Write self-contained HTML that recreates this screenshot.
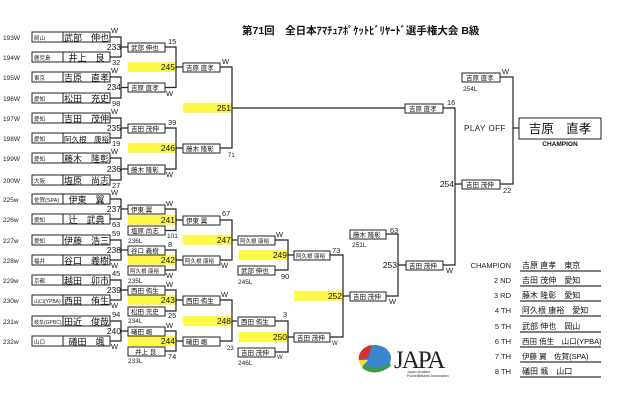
<!DOCTYPE html>
<html><head><meta charset="utf-8"><style>
html,body{margin:0;padding:0;background:#fff;}
svg{display:block;font-family:"Liberation Sans","Noto Sans CJK JP",sans-serif;}
</style></head><body>
<svg width="626" height="400" viewBox="0 0 626 400" xmlns="http://www.w3.org/2000/svg">
<rect width="626" height="400" fill="#fff"/>
<text x="242" y="34" font-size="10.5" font-weight="bold" fill="#111">第71回　全日本ｱﾏﾁｭｱﾎﾟｹｯﾄﾋﾞﾘﾔｰﾄﾞ選手権大会 B級</text>

<g fill="#fff84a">
<rect x="128" y="62" width="48" height="10"/><rect x="128" y="143" width="48" height="10"/>
<rect x="183" y="103" width="49" height="10"/>
<rect x="128" y="215" width="48" height="10"/><rect x="128" y="255" width="48" height="10"/>
<rect x="128" y="295" width="48" height="10"/><rect x="128" y="336" width="48" height="10"/>
<rect x="183" y="235" width="49" height="10"/><rect x="183" y="316" width="49" height="10"/>
<rect x="239" y="250" width="49" height="10"/><rect x="239" y="332" width="49" height="10"/>
<rect x="294" y="291" width="49" height="10"/>
</g>
<g font-size="8.5" text-anchor="end" fill="#111">
<text x="175" y="70">245</text><text x="175" y="151">246</text><text x="231" y="111">251</text>
<text x="175" y="223">241</text><text x="175" y="263">242</text><text x="175" y="303">243</text><text x="175" y="344">244</text>
<text x="231" y="243">247</text><text x="231" y="324">248</text>
<text x="287" y="258">249</text><text x="287" y="340">250</text><text x="342" y="299">252</text>
<text x="397" y="268">253</text><text x="454" y="187">254</text>
<text x="121" y="50">233</text><text x="121" y="90">234</text><text x="121" y="131">235</text><text x="121" y="172">236</text>
<text x="121" y="212">237</text><text x="121" y="253">238</text><text x="121" y="293">239</text><text x="121" y="334">240</text>
</g>

<g stroke="#222" stroke-width="1.2" fill="none">
<path d="M110 37H121V57H110M121 47H128"/>
<path d="M110 77H121V98H110M121 87.5H128"/>
<path d="M110 118H121V138H110M121 128H128"/>
<path d="M110 158H121V180H110M121 169H128"/>
<path d="M110 199H121V219H110M121 209H128"/>
<path d="M110 240H121V260H110M121 250H128"/>
<path d="M110 280H121V300H110M121 290H128"/>
<path d="M110 321H121V341H110M121 331H128"/>
<path d="M165 47H176V87.5H165M176 67H183"/>
<path d="M165 128H176V169H165M176 148H183"/>
<path d="M220 67H232V148H220M232 108H405"/>
<path d="M165 209H176V230.5H165M176 220H183"/>
<path d="M165 250H176V270H165M176 260H183"/>
<path d="M165 290H176V311H165M176 300H183"/>
<path d="M165 331H176V351H165M176 341H183"/>
<path d="M220 220H232V260H220M232 240H237"/>
<path d="M220 300H232V341H220M232 321H237"/>
<path d="M275 240H288V270H275M288 255H294"/>
<path d="M275 321H288V352H275M288 337H294"/>
<path d="M330 255H343V337H330M343 296H350"/>
<path d="M386 234H398V296H386M398 265H406"/>
<path d="M443 265H455V108H443M455 184H462"/>
<path d="M500 77H513V184H500M513 128H519"/>
</g>

<g stroke="#222" stroke-width="1" fill="#fff">
<rect x="32" y="32" width="78" height="10"/><rect x="32" y="52" width="78" height="10"/>
<rect x="32" y="72" width="78" height="10"/><rect x="32" y="93" width="78" height="10"/>
<rect x="32" y="113" width="78" height="10"/><rect x="32" y="133" width="78" height="10"/>
<rect x="32" y="153" width="78" height="10"/><rect x="32" y="175" width="78" height="10"/>
<rect x="32" y="194" width="78" height="10"/><rect x="32" y="214" width="78" height="10"/>
<rect x="32" y="235" width="78" height="10"/><rect x="32" y="255" width="78" height="10"/>
<rect x="32" y="275" width="78" height="10"/><rect x="32" y="295" width="78" height="10"/>
<rect x="32" y="316" width="78" height="10"/><rect x="32" y="336" width="78" height="10"/>
</g>
<g stroke="#222" stroke-width="1">
<path d="M63 32V42M63 52V62M63 72V82M63 93V103M63 113V123M63 133V143M63 153V163M63 175V185M63 194V204M63 214V224M63 235V245M63 255V265M63 275V285M63 295V305M63 316V326M63 336V346"/>
</g>
<g font-size="6.5" fill="#222">
<text x="3" y="40">193W</text><text x="3" y="60">194W</text><text x="3" y="80">195W</text><text x="3" y="101">196W</text>
<text x="3" y="121">197W</text><text x="3" y="141">198W</text><text x="3" y="161">199W</text><text x="3" y="183">200W</text>
<text x="3" y="202">225w</text><text x="3" y="222">226w</text><text x="3" y="243">227w</text><text x="3" y="263">228w</text>
<text x="3" y="283">229w</text><text x="3" y="303">230w</text><text x="3" y="324">231w</text><text x="3" y="344">232w</text>
</g>
<g font-size="5.5" fill="#222">
<text x="34" y="40">岡山</text><text x="34" y="60">鹿児島</text><text x="34" y="80">東京</text><text x="34" y="101">愛知</text>
<text x="34" y="121">愛知</text><text x="34" y="141">愛知</text><text x="34" y="161">愛知</text><text x="34" y="183">大阪</text>
<text x="34" y="202">佐賀(SPA)</text><text x="34" y="222">愛知</text><text x="34" y="243">愛知</text><text x="34" y="263">福井</text>
<text x="34" y="283">京都</text><text x="34" y="303" font-size="5">山口(YPBA)</text><text x="34" y="324" font-size="5">岐阜(GPBC)</text><text x="34" y="344">山口</text>
</g>
<g font-size="9" fill="#111" text-anchor="middle">
<text x="86.5" y="41">武部　伸也</text><text x="86.5" y="61">井上　良</text><text x="86.5" y="81">吉原　直孝</text><text x="86.5" y="102">松田　充史</text>
<text x="86.5" y="122">吉田　茂伸</text><text x="86.5" y="142" font-size="7.5">阿久根　康裕</text><text x="86.5" y="162">藤木　隆彰</text><text x="86.5" y="184">塩原　尚志</text>
<text x="86.5" y="203">伊東　翼</text><text x="86.5" y="223">辻　武典</text><text x="86.5" y="244">伊藤　浩三</text><text x="86.5" y="264">谷口　義樹</text>
<text x="86.5" y="284">越田　卯市</text><text x="86.5" y="304">西田　侑生</text><text x="86.5" y="325">田近　俊哉</text><text x="86.5" y="345">礒田　颯</text>
</g>

<g stroke="#222" stroke-width="1" fill="#fff">
<rect x="128" y="43" width="37" height="9"/><rect x="128" y="83" width="37" height="9"/>
<rect x="128" y="124" width="37" height="9"/><rect x="128" y="165" width="37" height="9"/>
<rect x="183" y="63" width="37" height="9"/><rect x="183" y="144" width="37" height="9"/>
<rect x="405" y="104" width="38" height="9"/>
<rect x="462" y="73" width="38" height="9"/><rect x="462" y="180" width="38" height="9"/>
<rect x="128" y="205" width="37" height="9"/><rect x="128" y="226" width="37" height="9"/>
<rect x="128" y="246" width="37" height="9"/><rect x="128" y="266" width="37" height="9"/>
<rect x="128" y="286" width="37" height="9"/><rect x="128" y="307" width="37" height="9"/>
<rect x="128" y="327" width="37" height="9"/><rect x="128" y="347" width="37" height="9"/>
<rect x="183" y="216" width="37" height="9"/><rect x="183" y="256" width="37" height="9"/>
<rect x="183" y="296" width="37" height="9"/><rect x="183" y="337" width="37" height="9"/>
<rect x="238" y="236" width="37" height="9"/><rect x="238" y="317" width="37" height="9"/>
<rect x="238" y="266" width="37" height="9"/><rect x="238" y="348" width="37" height="9"/>
<rect x="294" y="251" width="36" height="9"/><rect x="294" y="333" width="36" height="9"/>
<rect x="350" y="292" width="36" height="9"/><rect x="350" y="230" width="36" height="9"/>
<rect x="406" y="261" width="37" height="9"/>
<rect x="519" y="118" width="82" height="21"/>
</g>
<g font-size="6.5" fill="#111">
<text x="131" y="50">武部 伸也</text><text x="131" y="90">吉原 直孝</text><text x="131" y="131">吉田 茂伸</text><text x="131" y="172">藤木 隆彰</text>
<text x="186" y="70">吉原 直孝</text><text x="186" y="151">藤木 隆彰</text>
<text x="409" y="111">吉原 直孝</text><text x="466" y="80">吉原 直孝</text><text x="466" y="187">吉田 茂伸</text>
<text x="131" y="212">伊東 翼</text><text x="131" y="233">塩原 尚志</text><text x="131" y="253">谷口 義樹</text><text x="130" y="273" font-size="5.5">阿久根 康裕</text>
<text x="131" y="293">西田 侑生</text><text x="131" y="314">松田 充史</text><text x="131" y="334">礒田 颯</text><text x="135" y="354">井上 良</text>
<text x="186" y="223">伊東 翼</text><text x="185" y="263" font-size="5.5">阿久根 康裕</text><text x="186" y="303">西田 侑生</text><text x="186" y="344">礒田 颯</text>
<text x="240" y="243" font-size="5.5">阿久根 康裕</text><text x="241" y="324">西田 侑生</text><text x="241" y="273">武部 伸也</text><text x="241" y="355">吉田 茂伸</text>
<text x="296" y="258" font-size="5.5">阿久根 康裕</text><text x="297" y="340">吉田 茂伸</text>
<text x="353" y="299">吉田 茂伸</text><text x="353" y="237">藤木 隆彰</text><text x="409" y="268">吉田 茂伸</text>
</g>
<g font-size="6.5" fill="#222">
<text x="128" y="243">236L</text><text x="128" y="283">235L</text><text x="128" y="323">234L</text><text x="128" y="363">233L</text>
<text x="238" y="284">245L</text><text x="238" y="365">246L</text><text x="352" y="247">251L</text><text x="463" y="91">254L</text>
</g>
<g font-size="7.5" fill="#222">
<text x="111" y="33">W</text><text x="112" y="65">32</text>
<text x="111" y="73">W</text><text x="112" y="106">98</text>
<text x="111" y="114">W</text><text x="112" y="146">19</text>
<text x="111" y="154">W</text><text x="112" y="188">27</text>
<text x="111" y="195">W</text><text x="112" y="227">63</text>
<text x="112" y="236">59</text><text x="111" y="268">W</text>
<text x="112" y="276">45</text><text x="111" y="308">W</text>
<text x="112" y="317">94</text><text x="111" y="349">W</text>
<text x="168" y="44">15</text><text x="166" y="96">W</text>
<text x="168" y="125">39</text><text x="166" y="177">W</text>
<text x="222" y="64">W</text><text x="228" y="157" font-size="6">71</text>
<text x="447" y="105">16</text><text x="502" y="74">W</text><text x="503" y="193">22</text>
<text x="166" y="206">W</text><text x="167" y="238" font-size="6.5">101</text>
<text x="168" y="247">8</text><text x="166" y="278">W</text>
<text x="166" y="287">W</text><text x="168" y="318">25</text>
<text x="166" y="328">W</text><text x="168" y="359">74</text>
<text x="222" y="216">67</text><text x="221" y="268">W</text>
<text x="221" y="297">W</text><text x="227" y="350" font-size="6">23</text>
<text x="276" y="237">W</text><text x="281" y="279">90</text>
<text x="283" y="317">3</text><text x="277" y="359" font-size="6">W</text>
<text x="332" y="253">73</text><text x="332" y="345" font-size="6">W</text>
<text x="389" y="304">W</text><text x="390" y="233">63</text><text x="446" y="273">W</text>
</g>
<text x="464" y="131" font-size="8" fill="#222" letter-spacing="0.5">PLAY OFF</text>
<text x="560" y="133" font-size="12.5" fill="#111" text-anchor="middle">吉原　直孝</text>
<text x="560" y="146" font-size="6.5" font-weight="bold" fill="#111" text-anchor="middle">CHAMPION</text>

<g font-size="7.5" fill="#222" text-anchor="end">
<text x="511" y="268">CHAMPION</text><text x="511" y="283">2 ND</text><text x="511" y="298">3 RD</text><text x="511" y="313">4 TH</text>
<text x="511" y="329">5 TH</text><text x="511" y="344">6 TH</text><text x="511" y="359">7 TH</text><text x="511" y="374">8 TH</text>
</g>
<g font-size="8" fill="#111">
<text x="522" y="268">吉原 直孝　東京</text><text x="522" y="283">吉田 茂伸　愛知</text><text x="522" y="298">藤木 隆彰　愛知</text><text x="522" y="313">阿久根 康裕　愛知</text>
<text x="522" y="329">武部 伸也　岡山</text><text x="522" y="344" font-size="7.5">西田 侑生　山口(YPBA)</text><text x="522" y="359" font-size="7.5">伊藤 翼　佐賀(SPA)</text><text x="522" y="374">礒田 颯　山口</text>
</g>
<g stroke="#333" stroke-width="1.3">
<path d="M520 271H601M520 286H601M520 301H601M520 316H601M520 332H601M520 347H601M520 362H601M520 377H601"/>
</g>

<g>
<ellipse cx="375" cy="358" rx="16" ry="13" fill="#3a86cf"/>
<path d="M372 345 A16 13 0 0 0 359 360 L368 358 Z" fill="#d9302c"/>
<path d="M359 360 A16 13 0 0 0 362 367 L368 360 Z" fill="#f2e03a"/>
<path d="M362 368 Q375 378 391 366 L390 363 Q376 372 364 364 Z" fill="#3a9a4a"/>
<text x="394" y="368" font-size="25" fill="#222" letter-spacing="-2" font-family="Liberation Serif, serif">JAPA</text>
<text x="407" y="373" font-size="3.5" fill="#333">Japan Amateur</text>
<text x="407" y="377" font-size="3.5" fill="#333">PocketBilliards Association</text>
</g>
</svg>
</body></html>
